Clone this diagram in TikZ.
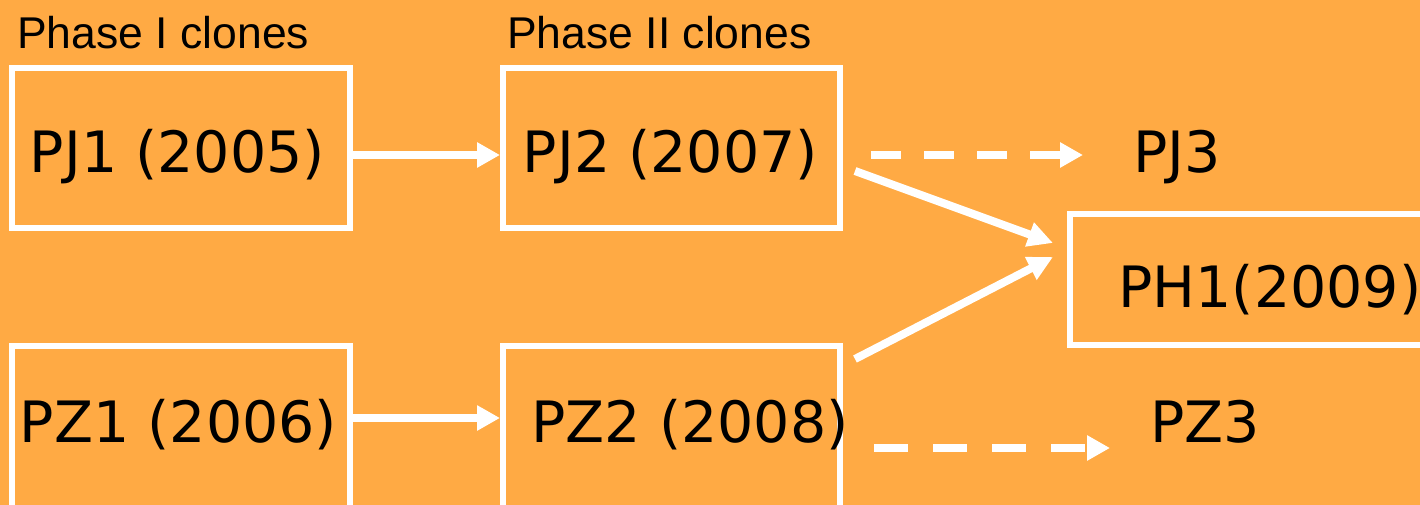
\documentclass[tikz,border=0pt]{standalone}
\usepackage{fontspec}
\setmainfont{DejaVu Sans}
\newfontfamily\labelfont{Liberation Sans}
\usetikzlibrary{arrows.meta}
\definecolor{bg}{HTML}{FFAA44}
\begin{document}
\begin{tikzpicture}[x=1pt,y=-1pt,
  box/.style={draw=white,line width=6pt,inner sep=0pt},
  lbl/.style={font=\fontsize{57}{57}\selectfont,inner sep=0pt,anchor=base,text=black},
  hdr/.style={font=\labelfont\fontsize{44.5}{44.5}\selectfont,inner sep=0pt,anchor=base west,text=black},
  arr/.style={draw=white,line width=8pt,-{Triangle[length=23pt,width=24pt]}},
  dasharr/.style={arr,dash pattern=on 30pt off 23pt}]
\useasboundingbox (0,0) rectangle (1420,504);
\clip (0,0) rectangle (1420,504);
\fill[bg] (-10,-10) rectangle (1430,514);
% boxes
\node[box,minimum width=338pt,minimum height=160.5pt] (pj1) at (181,147.75) {};
\node[box,minimum width=337pt,minimum height=160.5pt] (pj2) at (671.5,147.75) {};
\node[box,minimum width=338pt,minimum height=220pt] (pz1) at (181,455.5) {};
\node[box,minimum width=337pt,minimum height=220pt] (pz2) at (671.5,455.5) {};
\node[box,minimum width=370pt,minimum height=131pt] (ph1) at (1255,279.5) {};
% texts
\node[hdr] (h1) at (17,48) {Phase I clones};
\node[hdr] (h2) at (507,48) {Phase II clones};
\node[lbl] (tpj1) at (177.5,172) {PJ1 (2005)};
\node[lbl] (tpj2) at (670.5,172) {PJ2 (2007)};
\node[lbl] (tpz1) at (178.5,442) {PZ1 (2006)};
\node[lbl] (tpz2) at (690,442) {PZ2 (2008)};
\node[lbl] (tph1) at (1270,307) {PH1(2009)};
\node[lbl,anchor=base west] (pj3) at (1133,172) {PJ3};
\node[lbl,anchor=base west] (pz3) at (1150,442) {PZ3};
% rows
\coordinate (rowJ) at (0,155);
\coordinate (rowZ) at (0,418);
\coordinate (rowZd) at (0,448);
% arrows
\draw[arr] (pj1.east |- rowJ) -- (pj2.west |- rowJ);
\draw[arr] (pz1.east |- rowZ) -- (pz2.west |- rowZ);
\draw[dasharr] ([xshift=28pt]pj2.east |- rowJ) -- ([xshift=-50pt]pj3.west |- rowJ);
\draw[dasharr,dash pattern=on 34pt off 25pt,line width=8.5pt] ([xshift=31pt]pz2.east |- rowZd) -- ([xshift=-40pt]pz3.west |- rowZd);
\draw[arr,-{Triangle[length=25pt,width=24pt]}] ([shift={(12,-60)}]pj2.south east) -- ([shift={(-14,-36.5)}]ph1.west);
\draw[arr,-{Triangle[length=25pt,width=24pt]}] ([shift={(12,16.5)}]pz2.north east) -- ([shift={(-14,-22.5)}]ph1.west);
\end{tikzpicture}
\end{document}
